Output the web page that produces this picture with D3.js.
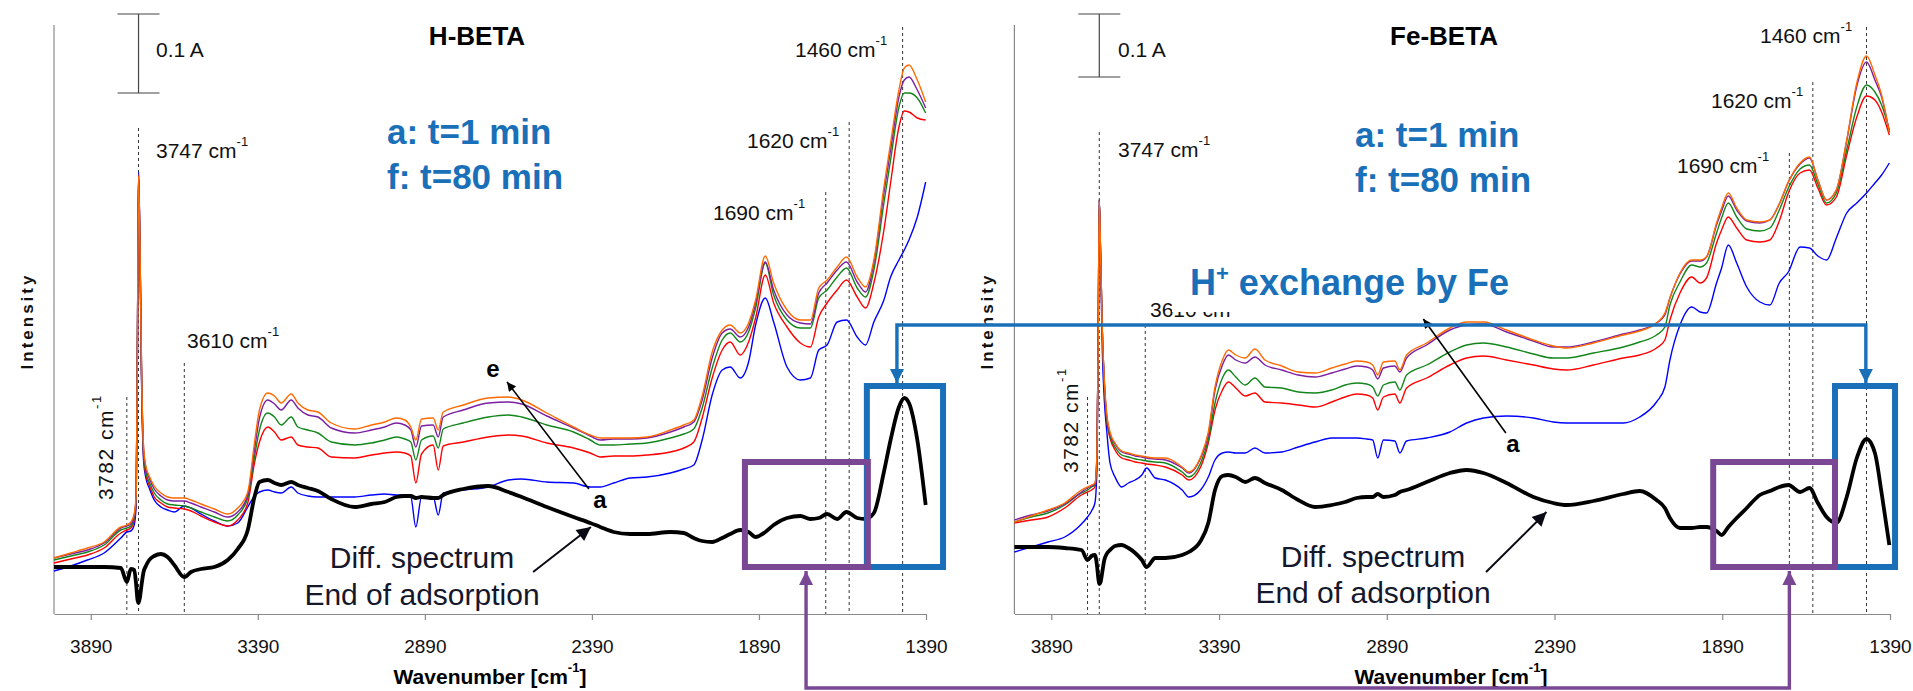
<!DOCTYPE html>
<html>
<head>
<meta charset="utf-8">
<script src="https://cdn.jsdelivr.net/npm/d3@7"></script>
<style>
  body { margin: 0; background: #fff; }
  svg { display: block; font-family: "Liberation Sans", Arial, sans-serif; }
</style>
</head>
<body>
<svg id="chart" width="1913" height="691"></svg>
<script>
// ---- DATA (intensity in arbitrary units, wavenumber in cm-1) ----

var xTicks = [3890, 3390, 2890, 2390, 1890, 1390];
var peakLines = [3782, 3747, 3610, 1690, 1620, 1460];

// H-BETA
var waveL = [
  4000,3950,3900,3850,3800,3782,3770,3760,3754,3750,
  3747,3743,3738,3732,3725,3715,3700,3680,3660,3640,
  3610,3590,3560,3520,3480,3450,3420,3400,3385,3360,
  3340,3320,3290,3270,3240,3210,3170,3100,3050,3010,
  2975,2950,2932,2917,2900,2865,2850,2835,2775,2700,
  2640,2600,2525,2445,2395,2365,2325,2275,2225,2155,
  2115,2085,2060,2030,2000,1976,1946,1921,1900,1871,
  1846,1806,1766,1736,1711,1686,1656,1628,1596,1571,
  1546,1516,1496,1471,1455,1441,1416,1391];
var diffL = [
  47,47,47,47,46,32,45,44,29,14,
  11,16,29,42,48,54,58,60,57,49,
  37,42,45,47,54,65,84,117,132,134,
  131,129,132,129,126,123,115,107,110,112,
  117,118,118,116,117,116,116,119,125,128,
  122,117,107,97,91,87,82,80,80,82,
  81,76,73,72,76,80,84,82,77,82,
  89,96,98,95,96,100,95,102,96,95,
  101,142,174,207,216,211,174,109];
var blueL = [
  43,48,54,61,76,82,83,89,109,284,
  442,374,234,154,136,126,114,107,104,102,
  108,106,100,93,88,91,107,118,122,124,
  122,121,127,121,118,117,117,117,119,120,
  119,119,117,87,117,117,99,121,124,127,
  134,135,132,131,127,127,131,136,137,141,
  145,149,174,219,244,247,236,252,289,316,
  292,247,234,236,264,269,292,294,277,269,
  292,314,337,354,364,374,397,432];
var redL = [
  51,55,59,66,81,84,86,94,114,284,
  439,374,239,159,139,129,117,111,107,106,
  105,103,98,92,88,94,111,151,172,187,
  182,174,177,169,167,166,157,156,159,161,
  162,161,158,131,160,169,144,168,172,177,
  179,178,171,166,161,157,158,158,159,162,
  166,172,196,236,264,272,259,272,296,339,
  311,287,271,267,297,311,324,334,317,306,
  331,384,431,487,503,502,496,494];
var greenL = [
  54,58,62,69,84,86,88,96,116,284,
  440,374,242,162,142,132,121,114,110,109,
  108,106,102,97,93,99,116,157,184,201,
  197,189,197,187,184,181,172,169,171,174,
  177,175,172,154,174,178,166,185,191,197,
  199,197,189,182,174,169,169,170,171,176,
  180,185,206,246,274,281,272,282,306,351,
  319,294,286,286,316,324,337,346,326,317,
  344,411,454,507,521,521,516,501];
var purpleL = [
  56,60,64,71,86,88,90,98,118,284,
  440,374,244,166,146,136,125,118,114,113,
  113,111,107,102,97,102,119,164,196,214,
  210,204,214,206,199,197,186,181,184,187,
  191,189,184,167,188,189,177,197,204,211,
  212,210,198,186,178,174,175,175,176,182,
  187,192,214,256,281,285,277,287,311,352,
  324,299,291,290,321,331,344,352,332,322,
  351,421,464,517,534,537,524,506];
var orangeL = [
  56,61,66,72,87,89,92,100,120,284,
  438,374,246,168,148,138,128,121,117,116,
  116,114,110,105,100,106,122,171,204,221,
  218,211,220,211,204,202,191,185,189,192,
  196,194,187,174,195,196,184,202,209,216,
  217,214,201,187,179,176,176,176,177,184,
  189,194,218,262,284,289,281,291,314,358,
  331,304,294,294,326,334,347,357,337,327,
  354,427,471,524,546,549,534,512];

// Fe-BETA
var waveR = [
  4000,3950,3900,3850,3800,3782,3770,3760,3754,3750,
  3747,3743,3738,3732,3725,3715,3700,3680,3660,3640,
  3620,3606,3580,3550,3500,3480,3445,3422,3402,3380,
  3362,3340,3312,3283,3253,3203,3154,3104,3054,3014,
  2980,2950,2932,2917,2900,2866,2851,2831,2771,2702,
  2652,2602,2533,2453,2394,2354,2274,2185,2136,2086,
  2061,2046,2016,1981,1956,1937,1907,1892,1872,1847,
  1817,1778,1748,1720,1693,1658,1630,1605,1579,1550,
  1519,1489,1460,1435,1415,1392];
var diffR = [
  67,67,67,66,64,54,58,59,49,36,
  30,32,42,54,60,64,68,69,66,61,
  54,47,56,56,59,62,73,91,124,138,
  139,137,132,136,131,124,114,107,109,112,
  116,117,117,120,117,119,122,124,132,141,
  144,141,131,117,111,109,113,120,123,114,
  106,96,86,86,87,87,83,79,87,96,
  106,119,123,127,129,122,126,111,97,91,
  117,156,175,161,121,69];
var blueR = [
  62,67,72,77,90,97,103,111,144,284,
  414,354,264,214,184,151,137,127,131,134,
  139,146,136,134,124,117,124,137,154,161,
  162,161,161,166,161,162,167,172,176,176,
  176,175,174,156,174,173,161,173,176,182,
  191,196,198,196,192,191,191,191,197,212,
  227,254,289,307,302,301,331,346,369,351,
  327,312,309,331,342,367,366,358,354,376,
  401,411,421,431,439,451];
var redR = [
  91,94,97,106,119,122,124,127,154,284,
  414,359,284,229,194,176,164,156,154,152,
  151,150,149,147,139,134,147,171,204,224,
  232,226,218,221,212,211,209,207,212,217,
  220,219,216,204,217,220,211,226,236,249,
  256,258,254,249,245,244,249,256,259,266,
  274,294,321,337,331,336,371,384,397,386,
  374,372,374,393,421,441,444,426,409,417,
  459,497,518,514,502,479];
var greenR = [
  92,97,101,109,121,124,127,129,156,284,
  414,359,284,231,196,178,167,159,157,155,
  154,153,152,151,142,137,151,174,211,236,
  244,237,229,236,227,226,222,221,224,229,
  231,230,227,218,229,232,224,239,249,262,
  269,271,267,260,256,256,261,267,272,279,
  287,309,332,349,347,351,381,396,411,397,
  385,383,386,404,426,445,449,430,411,421,
  464,507,529,522,509,484];
var purpleR = [
  94,99,103,110,122,126,128,130,158,284,
  414,359,284,233,199,180,170,162,160,158,
  157,156,155,154,146,141,156,179,224,249,
  259,254,251,257,249,244,239,237,241,245,
  248,247,244,235,246,248,242,256,269,284,
  289,290,282,273,267,267,272,280,284,291,
  299,316,340,353,353,357,389,403,418,404,
  393,391,394,410,432,450,456,434,414,424,
  473,528,552,534,517,482];
var orangeR = [
  92,98,104,111,124,127,129,131,159,284,
  413,359,284,234,201,182,171,163,161,159,
  158,157,156,156,147,142,157,182,227,254,
  264,259,256,265,254,248,242,241,246,250,
  253,252,249,239,252,253,244,259,271,286,
  292,292,284,274,268,266,271,279,283,291,
  301,316,341,354,354,357,391,406,421,406,
  394,392,394,410,432,451,457,434,414,424,
  474,531,558,539,519,481];

// ---- SCALES ----
var svg = d3.select('#chart');
var y = d3.scaleLinear().domain([0, 600]).range([614, 14]);
var xL = d3.scaleLinear().domain([4000, 1390]).range([54, 926]);
var xR = d3.scaleLinear().domain([4000, 1390]).range([1014.4, 1890]);

var colors = ['#0000ff', '#ff0000', '#13861b', '#7b1fa2', '#ff6a00'];
var annoBlue = '#1a70b8', annoPurple = '#7a4795';
var axisGray = '#8a8a8a';

var panels = [
  { title: 'H-BETA', x: xL, wave: waveL, diff: diffL,
    series: [blueL, redL, greenL, purpleL, orangeL],
    lineTops: [217, 486, 251, 422, 492, 587],
    scaleBar: [521, 600],
    blueBox: [1567, 1339], purpleBox: [1932, 1564],
    // text positions
    t: { title: 477, leg: [387, 144, 189], bar: [156, 57], inten: 33,
         peaks: [[156,158,'3747'],[187,348,'3610'],[713,220,'1690'],[747,148,'1620'],[795,57,'1460']],
         rot: [113, 500], axisTitle: 490, diff: [422, 568, 605] } },
  { title: 'Fe-BETA', x: xR, wave: waveR, diff: diffR,
    series: [blueR, redR, greenR, purpleR, orangeR],
    lineTops: [217, 482, 289, 461, 532, 587],
    scaleBar: [537, 600],
    blueBox: [1554, 1375], purpleBox: [1917, 1554],
    t: { title: 1444, leg: [1355, 147, 192], bar: [1118, 57], inten: 993,
         peaks: [[1118,157,'3747'],[1150,317,'3610'],[1677,173,'1690'],[1711,108,'1620'],[1760,43,'1460']],
         rot: [1078, 473], axisTitle: 1451, diff: [1373, 567, 603] } }
];

// ---- MARKERS ----
var defs = svg.append('defs');
function marker(id, color, w, h) {
  defs.append('marker').attr('id', id)
    .attr('viewBox', '0 0 10 10').attr('refX', 10).attr('refY', 5)
    .attr('markerUnits', 'userSpaceOnUse')
    .attr('markerWidth', w).attr('markerHeight', h)
    .attr('orient', 'auto-start-reverse')
    .append('path').attr('d', 'M0,0L10,5L0,10z').attr('fill', color);
}
marker('arrBlue', annoBlue, 14, 16);
marker('arrPurple', annoPurple, 14, 16);
marker('arrThin', '#000', 11, 9);
marker('arrBig', '#0a0a14', 16, 14);

function sup(sel, txt, size) {
  sel.append('tspan').attr('dy', -size * 0.55).attr('font-size', size * 0.62).text(txt);
}

panels.forEach(function (p) {
  var x = p.x, g = svg.append('g');
  var x0 = x.range()[0];

  // y axis line
  g.append('line').attr('x1', x0).attr('x2', x0).attr('y1', 25).attr('y2', y(0))
    .attr('stroke', axisGray).attr('stroke-width', 1.2);

  // x axis
  var ax = g.append('g').attr('transform', 'translate(0,' + y(0) + ')')
    .call(d3.axisBottom(x).tickValues(xTicks).tickSize(6).tickSizeOuter(0)
      .tickPadding(20).tickFormat(d3.format('d')));
  ax.select('.domain').attr('stroke', axisGray).attr('stroke-width', 1.2);
  ax.selectAll('.tick line').attr('stroke', axisGray).attr('stroke-width', 1.2);
  ax.selectAll('.tick text').attr('font-size', 19).attr('fill', '#111')
    .attr('font-family', '"Liberation Sans", Arial, sans-serif');

  // dashed peak lines
  g.selectAll('.peak').data(peakLines).enter().append('line')
    .attr('x1', function (d) { return x(d); }).attr('x2', function (d) { return x(d); })
    .attr('y1', function (d, i) { return y(p.lineTops[i]); }).attr('y2', y(0))
    .attr('stroke', '#333').attr('stroke-width', 1).attr('stroke-dasharray', '3,3');

  // spectra
  var line = d3.line()
    .x(function (d) { return x(d[0]); })
    .y(function (d) { return y(d[1]); })
    .curve(d3.curveMonotoneX);
  p.series.forEach(function (vals, k) {
    g.append('path').datum(p.wave.map(function (w, i) { return [w, vals[i]]; }))
      .attr('d', line).attr('fill', 'none')
      .attr('stroke', colors[k]).attr('stroke-width', 1.4).attr('stroke-linejoin', 'round');
  });
  g.append('path').datum(p.wave.map(function (w, i) { return [w, p.diff[i]]; }))
    .attr('d', line).attr('fill', 'none')
    .attr('stroke', '#000').attr('stroke-width', 3.8).attr('stroke-linejoin', 'round');

  // scale bar (0.1 A)
  var sx = x(3747);
  g.append('line').attr('x1', sx).attr('x2', sx)
    .attr('y1', y(p.scaleBar[0])).attr('y2', y(p.scaleBar[1]))
    .attr('stroke', '#444').attr('stroke-width', 1.2);
  p.scaleBar.forEach(function (v) {
    g.append('line').attr('x1', sx - 21).attr('x2', sx + 21)
      .attr('y1', y(v)).attr('y2', y(v)).attr('stroke', '#444').attr('stroke-width', 1.2);
  });
  g.append('text').attr('x', p.t.bar[0]).attr('y', p.t.bar[1])
    .attr('font-size', 21).attr('fill', '#111').text('0.1 A');

  // highlight boxes
  [[p.blueBox, 228, annoBlue], [p.purpleBox, 152, annoPurple]].forEach(function (b) {
    g.append('rect')
      .attr('x', x(b[0][0])).attr('y', y(b[1]))
      .attr('width', x(b[0][1]) - x(b[0][0])).attr('height', y(47) - y(b[1]))
      .attr('fill', 'none').attr('stroke', b[2]).attr('stroke-width', 6);
  });

  // titles and labels
  g.append('text').attr('x', p.t.title).attr('y', 45).attr('text-anchor', 'middle')
    .attr('font-size', 26).attr('font-weight', 'bold').attr('fill', '#000').text(p.title);
  g.append('text').attr('x', p.t.leg[0]).attr('y', p.t.leg[1])
    .attr('font-size', 35).attr('font-weight', 'bold').attr('fill', annoBlue).text('a: t=1 min');
  g.append('text').attr('x', p.t.leg[0]).attr('y', p.t.leg[2])
    .attr('font-size', 35).attr('font-weight', 'bold').attr('fill', annoBlue).text('f: t=80 min');

  p.t.peaks.forEach(function (pk) {
    var t = g.append('text').attr('x', pk[0]).attr('y', pk[1])
      .attr('font-size', 21).attr('fill', '#111').text(pk[2] + ' cm');
    sup(t, '-1', 21);
  });
  var rt = g.append('text')
    .attr('transform', 'translate(' + p.t.rot[0] + ',' + p.t.rot[1] + ') rotate(-90)')
    .attr('font-size', 21).attr('letter-spacing', 1.5).attr('fill', '#111').text('3782 cm');
  sup(rt, '-1', 21);

  g.append('text')
    .attr('transform', 'translate(' + p.t.inten + ',321) rotate(-90)')
    .attr('text-anchor', 'middle').attr('font-size', 17).attr('font-weight', 'bold')
    .attr('letter-spacing', 3).attr('fill', '#111').text('Intensity');

  var at = g.append('text').attr('x', p.t.axisTitle).attr('y', 684).attr('text-anchor', 'middle')
    .attr('font-size', 21).attr('font-weight', 'bold').attr('fill', '#000').text('Wavenumber [cm');
  sup(at, '-1', 21);
  at.append('tspan').attr('dy', 21 * 0.55).text(']');

  g.append('text').attr('x', p.t.diff[0]).attr('y', p.t.diff[1]).attr('text-anchor', 'middle')
    .attr('font-size', 30).attr('fill', '#15172b').text('Diff. spectrum');
  g.append('text').attr('x', p.t.diff[0]).attr('y', p.t.diff[2]).attr('text-anchor', 'middle')
    .attr('font-size', 30).attr('fill', '#15172b').text('End of adsorption');
});

// ---- ANNOTATIONS ----
// left: a -> e arrow, labels
svg.append('line').attr('x1', xL(2399)).attr('y1', y(125)).attr('x2', xL(2644)).attr('y2', y(232))
  .attr('stroke', '#000').attr('stroke-width', 1.6).attr('marker-end', 'url(#arrThin)');
svg.append('text').attr('x', 493).attr('y', 377).attr('text-anchor', 'middle')
  .attr('font-size', 24).attr('font-weight', 'bold').text('e');
svg.append('text').attr('x', 600).attr('y', 508).attr('text-anchor', 'middle')
  .attr('font-size', 24).attr('font-weight', 'bold').text('a');
// right: a arrow
svg.append('line').attr('x1', xR(2535)).attr('y1', y(181)).attr('x2', xR(2781)).attr('y2', y(295))
  .attr('stroke', '#000').attr('stroke-width', 1.6).attr('marker-end', 'url(#arrThin)');
svg.append('text').attr('x', 1513).attr('y', 452).attr('text-anchor', 'middle')
  .attr('font-size', 24).attr('font-weight', 'bold').text('a');

// diff spectrum arrows
svg.append('line').attr('x1', xL(2566)).attr('y1', y(42)).attr('x2', xL(2393)).attr('y2', y(87))
  .attr('stroke', '#0a0a14').attr('stroke-width', 2).attr('marker-end', 'url(#arrBig)');
svg.append('line').attr('x1', xR(2594)).attr('y1', y(42)).attr('x2', xR(2414)).attr('y2', y(102))
  .attr('stroke', '#0a0a14').attr('stroke-width', 2).attr('marker-end', 'url(#arrBig)');

// "H+ exchange by Fe" with white backing that hides part of the 3610 label
svg.append('rect').attr('x', 1172).attr('y', 262).attr('width', 356).attr('height', 50).attr('fill', '#fff');
var hx = svg.append('text').attr('x', 1190).attr('y', 295)
  .attr('font-size', 36).attr('font-weight', 'bold').attr('fill', annoBlue).text('H');
hx.append('tspan').attr('dy', -14).attr('font-size', 22).text('+');
hx.append('tspan').attr('dy', 14).text(' exchange by Fe');

// blue connector (1460 band)
svg.append('path')
  .attr('d', d3.line()([[xL(1477), y(231)], [xL(1477), y(289)], [xR(1462), y(289)], [xR(1462), y(231)]]))
  .attr('fill', 'none').attr('stroke', annoBlue).attr('stroke-width', 3.4)
  .attr('marker-start', 'url(#arrBlue)').attr('marker-end', 'url(#arrBlue)');
// purple connector (1690/1620 region)
svg.append('path')
  .attr('d', d3.line()([[xL(1749), y(43)], [xL(1749), y(-74)], [xR(1690), y(-74)], [xR(1690), y(43)]]))
  .attr('fill', 'none').attr('stroke', annoPurple).attr('stroke-width', 3.4)
  .attr('marker-start', 'url(#arrPurple)').attr('marker-end', 'url(#arrPurple)');
</script>
</body>
</html>
